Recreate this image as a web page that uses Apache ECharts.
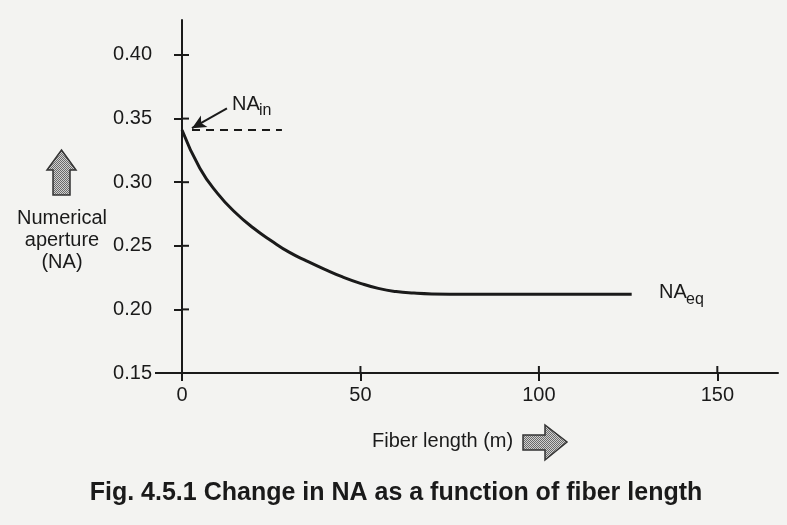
<!DOCTYPE html>
<html>
<head>
<meta charset="utf-8">
<title>Change in NA as a function of fiber length</title>
<script src="https://cdn.jsdelivr.net/npm/echarts@6/dist/echarts.min.js"></script>
<style>
  html, body { margin: 0; padding: 0; background: #f3f3f1; }
  #chart { width: 787px; height: 525px; }
</style>
</head>
<body>
<div id="chart"></div>
<script>
// 光纤长度 (m) 与数值孔径 NA
const fiberLength = [0, 5, 10, 15, 20, 25, 30, 35, 40, 45, 50, 55, 60, 65, 70, 80, 100, 126]
const naValues = [0.341, 0.311, 0.291, 0.276, 0.264, 0.254, 0.245, 0.238, 0.2315, 0.2255, 0.2205, 0.2165, 0.214, 0.2128, 0.2122, 0.212, 0.212, 0.212]

// 刻度
const xTicks = [0, 50, 100, 150]
const yTicks = [0.15, 0.20, 0.25, 0.30, 0.35, 0.40]

// NA_in 虚线与箭头 (数据坐标)
const naIn = 0.341
const naInDash = [2.8, 28]
const naInArrow = [[12.6, 0.358], [2.8, 0.3425]]

const ink = '#1a1a1a'
const font = 'Liberation Sans, Arial, sans-serif'

// 灰色点状填充（箭头用）
const makeStipple = () => {
  const c = document.createElement('canvas')
  c.width = 2
  c.height = 2
  const ctx = c.getContext('2d')
  ctx.fillStyle = '#d0d0d0'
  ctx.fillRect(0, 0, 2, 2)
  ctx.fillStyle = '#6a6a6a'
  ctx.fillRect(0, 0, 1, 1)
  ctx.fillRect(1, 1, 1, 1)
  return { image: c, repeat: 'repeat' }
}
const stipple = makeStipple()

const chart = echarts.init(document.getElementById('chart'))
const tickStyle = { color: ink, width: 2 }

// 内侧半截刻度，使刻度线穿过坐标轴
const innerTick = (dir) => (params, api) => {
  const p = api.coord([api.value(0), api.value(1)])
  const shape = dir === 'x'
    ? { x1: p[0], y1: p[1], x2: p[0], y2: p[1] - 7 }
    : { x1: p[0], y1: p[1], x2: p[0] + 7, y2: p[1] }
  return { type: 'line', shape: shape, style: { stroke: ink, lineWidth: 2 } }
}

const options = {
  backgroundColor: '#f3f3f1',
  animation: false,
  grid: { left: 182, right: 9, top: 20, bottom: 152 },
  xAxis: {
    type: 'value',
    min: 0,
    max: 167,
    splitLine: { show: false },
    axisLine: { show: true, lineStyle: { color: ink, width: 2 } },
    axisTick: { show: true, length: 8, customValues: xTicks, lineStyle: tickStyle },
    axisLabel: {
      color: ink,
      fontSize: 20,
      fontFamily: font,
      margin: 12,
      customValues: xTicks
    }
  },
  yAxis: {
    type: 'value',
    min: 0.15,
    max: 0.4275,
    splitLine: { show: false },
    axisLine: { show: true, lineStyle: { color: ink, width: 2 } },
    axisTick: { show: true, length: 8, customValues: yTicks.slice(1), lineStyle: tickStyle },
    axisLabel: {
      color: ink,
      fontSize: 20,
      fontFamily: font,
      margin: 30,
      padding: [0, 0, 12, 0],
      customValues: yTicks,
      formatter: v => v.toFixed(2)
    }
  },
  series: [
    {
      name: 'NA',
      type: 'line',
      smooth: 0.5,
      symbol: 'none',
      lineStyle: { color: ink, width: 3 },
      data: fiberLength.map((x, i) => [x, naValues[i]])
    },
    {
      name: 'NA_in',
      type: 'line',
      symbol: 'none',
      lineStyle: { color: ink, width: 2, type: [8, 6] },
      data: naInDash.map(x => [x, naIn]),
      markLine: {
        silent: true,
        symbol: ['none', 'arrow'],
        symbolSize: [10, 14],
        label: { show: false },
        lineStyle: { color: ink, width: 2, type: 'solid' },
        data: [[
          { coord: naInArrow[0] },
          { coord: naInArrow[1] }
        ]]
      }
    },
    {
      name: 'xTickInner',
      type: 'custom',
      silent: true,
      clip: false,
      renderItem: innerTick('x'),
      data: xTicks.map(v => [v, yTicks[0]])
    },
    {
      name: 'yTickInner',
      type: 'custom',
      silent: true,
      clip: false,
      renderItem: innerTick('y'),
      data: yTicks.slice(1).map(v => [0, v])
    }
  ],
  graphic: [
    // x 轴向左延伸部分
    {
      type: 'line',
      shape: { x1: 155, y1: 373, x2: 182, y2: 373 },
      style: { stroke: ink, lineWidth: 2 }
    },
    // NA_in 标注
    {
      type: 'text', left: 232, top: 94,
      style: { text: 'NA', fontSize: 20, fontFamily: font, fill: ink }
    },
    {
      type: 'text', left: 259, top: 103,
      style: { text: 'in', fontSize: 16, fontFamily: font, fill: ink }
    },
    // NA_eq 标注
    {
      type: 'text', left: 659, top: 282,
      style: { text: 'NA', fontSize: 20, fontFamily: font, fill: ink }
    },
    {
      type: 'text', left: 686, top: 292,
      style: { text: 'eq', fontSize: 16, fontFamily: font, fill: ink }
    },
    // y 轴名称
    {
      type: 'text', x: 62, y: 240,
      style: {
        text: 'Numerical\naperture\n(NA)',
        fontSize: 20,
        lineHeight: 22,
        fontFamily: font,
        fill: ink,
        align: 'center',
        verticalAlign: 'middle'
      }
    },
    // 向上箭头
    {
      type: 'polygon',
      shape: {
        points: [[61.5, 150], [76, 170], [70, 170], [70, 195], [53, 195], [53, 170], [47, 170]]
      },
      style: { fill: stipple, stroke: '#333', lineWidth: 1.5 }
    },
    // x 轴名称
    {
      type: 'text', left: 372, top: 431,
      style: { text: 'Fiber length (m)', fontSize: 20, fontFamily: font, fill: ink }
    },
    // 向右箭头
    {
      type: 'polygon',
      shape: {
        points: [[523, 435], [545, 435], [545, 425], [567, 442], [545, 460], [545, 450], [523, 450]]
      },
      style: { fill: stipple, stroke: '#333', lineWidth: 1.5 }
    },
    // 图题
    {
      type: 'text', x: 396, y: 493,
      style: {
        text: 'Fig. 4.5.1 Change in NA as a function of fiber length',
        fontSize: 25,
        fontWeight: 'bold',
        fontFamily: font,
        fill: ink,
        align: 'center',
        verticalAlign: 'middle'
      }
    }
  ]
}

chart.setOption(options)
</script>
</body>
</html>
